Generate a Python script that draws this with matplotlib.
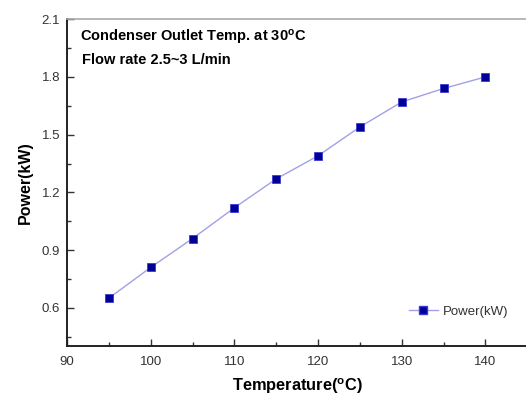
import matplotlib
matplotlib.use("Agg")
import matplotlib.pyplot as plt
from matplotlib.ticker import MultipleLocator

# condenser outlet held at 30 C, flow 2.5-3 L/min
temperature = [95, 100, 105, 110, 115, 120, 125, 130, 135, 140]
power_kw = [0.65, 0.81, 0.96, 1.12, 1.27, 1.39, 1.54, 1.67, 1.74, 1.80]

plt.rcParams["font.family"] = ["Liberation Sans", "DejaVu Sans"]
plt.rcParams["mathtext.fontset"] = "custom"
plt.rcParams["mathtext.rm"] = "Liberation Sans:bold"

fig = plt.figure(figsize=(5.26, 3.96), dpi=100)
ax = fig.add_axes([0.1274, 0.1255, 0.875, 0.826])

ax.plot(temperature, power_kw, "-", color="#a0a0e8", lw=1.0, zorder=2)
ax.plot(temperature, power_kw, "s", color="#000099", ms=5.5, mec="#3a3ad0", mew=0.6,
        ls="none", zorder=3)
# legend handle: line with marker in the middle
ax.plot([], [], "-s", color="#a0a0e8", mfc="#000099", mec="#3a3ad0", ms=5.5, lw=1.0,
        label="Power(kW)")

ax.set_xlim(90, 145)
ax.set_ylim(0.4, 2.1)
ax.xaxis.set_major_locator(MultipleLocator(10))
ax.xaxis.set_minor_locator(MultipleLocator(5))
ax.yaxis.set_major_locator(MultipleLocator(0.3))
ax.yaxis.set_minor_locator(MultipleLocator(0.15))
ax.yaxis.set_major_formatter(plt.FormatStrFormatter("%.1f"))
ax.tick_params(which="both", direction="in", colors="#333333", labelsize=9.5, width=1.0)
ax.tick_params(which="major", length=5)
ax.tick_params(which="minor", length=3)
ax.tick_params(axis="x", pad=7)
ax.tick_params(axis="y", pad=5)

for side in ("left", "bottom"):
    ax.spines[side].set_linewidth(1.4)
    ax.spines[side].set_color("#222222")
ax.spines["top"].set_color("#aaaaaa")
ax.spines["top"].set_linewidth(1.2)
ax.spines["right"].set_visible(False)

ax.set_xlabel(r"Temperature($\mathregular{^o}$C)", fontsize=11.8, fontweight="bold", labelpad=6)
ax.set_ylabel("Power(kW)", fontsize=11.5, fontweight="bold", labelpad=6)

ax.text(0.028, 0.945, r"Condenser Outlet Temp. at 30$\mathregular{^o}$C", transform=ax.transAxes,
        fontsize=10.5, fontweight="bold", va="center")
ax.text(0.032, 0.875, "Flow rate 2.5~3 L/min", transform=ax.transAxes,
        fontsize=10.5, fontweight="bold", va="center")

ax.legend(loc="lower right", bbox_to_anchor=(0.985, 0.05), frameon=False, fontsize=9.5,
          handlelength=2.2, handletextpad=0.4, labelcolor="#333333")

fig.savefig("out.png", dpi=100)
